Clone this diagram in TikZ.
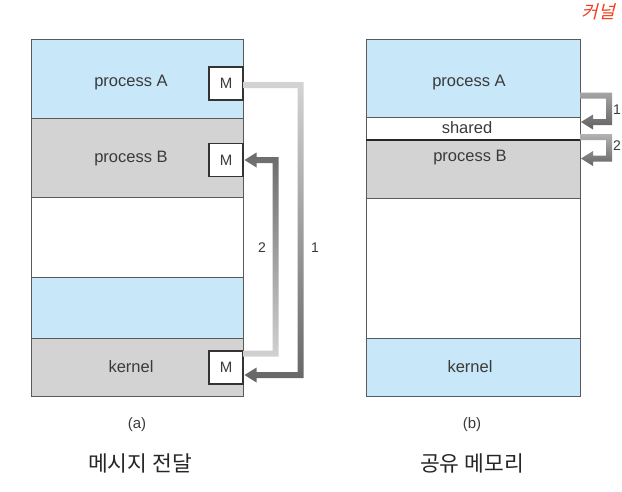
\documentclass[tikz,border=0pt]{standalone}
\usepackage{fontspec}
\setmainfont{Liberation Sans}
\newfontfamily\krfont{Noto Sans CJK KR}
\definecolor{memblue}{HTML}{C8E7F8}
\definecolor{memgray}{HTML}{D3D3D3}
\definecolor{edge}{HTML}{5A5A5A}
\definecolor{txt}{HTML}{3A3A3A}
\definecolor{redpen}{HTML}{F2401E}
\newcommand\elbowarrow[8]{%
  \shade[top color=#7,bottom color=#8]
    (#1,{#2-(#6)*3}) -- ({#3+3},{#2-(#6)*3}) -- ({#3+3},{#4+(#6)*3})
    -- ({#5+12},{#4+(#6)*3}) -- ({#5+12},{#4+(#6)*7.5}) -- (#5,#4)
    -- ({#5+12},{#4-(#6)*7.5}) -- ({#5+12},{#4-(#6)*3})
    -- ({#3-3},{#4-(#6)*3}) -- ({#3-3},{#2+(#6)*3}) -- (#1,{#2+(#6)*3}) -- cycle;}
\tikzset{
  sec/.style={draw=edge, line width=0.9pt, inner sep=0pt, outer sep=0pt},
  lbl/.style={text=txt, font=\fontsize{16.5}{19}\selectfont, inner sep=0pt},
  mbox/.style={draw=black!80, line width=1.2pt, fill=white, minimum width=34pt, minimum height=33pt, inner sep=0pt, text=txt, font=\fontsize{15}{18}\selectfont},
  num/.style={text=txt, font=\fontsize{14}{16}\selectfont, inner sep=0pt},
  captext/.style={text=txt, font=\fontsize{15}{18}\selectfont, inner sep=0pt},
  kr/.style={text=black!85, font=\krfont\fontsize{21.5}{24}\selectfont, inner sep=0pt}
}
\begin{document}
\begin{tikzpicture}[x=1pt,y=-1pt]
\useasboundingbox[fill=white] (0,0) rectangle (622,491);
% left column (a)
\node[sec, fill=memblue, minimum width=212pt, minimum height=79pt] (a1) at (137,78.5) {};
\node[sec, fill=memgray, minimum width=212pt, minimum height=79pt] (a2) at (137,157.5) {};
\node[sec, fill=white, minimum width=212pt, minimum height=80pt] (a3) at (137,237) {};
\node[sec, fill=memblue, minimum width=212pt, minimum height=61pt] (a4) at (137,307.5) {};
\node[sec, fill=memgray, minimum width=212pt, minimum height=58pt] (a5) at (137,367) {};
\node[lbl] (ta1) at (131,83) {process A};
\node[lbl] (ta2) at (131,159) {process B};
\node[lbl] (ta5) at (131,367) {kernel};
\node[mbox] (mA) at (226,83.5) {M};
\node[mbox] (mB) at (226,160) {M};
\node[mbox] (mK) at (226,367.5) {M};
% arrows (a)
\elbowarrow{243}{85}{300.5}{375}{244.5}{1}{black!17}{black!60}
\elbowarrow{243}{353.5}{275.5}{160}{244.5}{-1}{black!58}{black!18}
\node[num] (n2) at (262,248) {2};
\node[num] (n1) at (315,248) {1};
% right column (b)
\node[sec, fill=memblue, minimum width=214pt, minimum height=78pt] (b1) at (473,78) {};
\node[sec, fill=white, minimum width=214pt, minimum height=23pt] (b2) at (473,128.5) {};
\node[sec, fill=memgray, minimum width=214pt, minimum height=58pt] (b3) at (473,169) {};
\node[sec, fill=white, minimum width=214pt, minimum height=140pt] (b4) at (473,268) {};
\node[sec, fill=memblue, minimum width=214pt, minimum height=58pt] (b5) at (473,367) {};
\draw[black!85, line width=1.6pt] (b2.south west) -- (b2.south east);
\node[lbl] (tb1) at (469,83) {process A};
\node[lbl] (tb2) at (467,128) {shared};
\node[lbl] (tb3) at (470,158) {process B};
\node[lbl] (tb5) at (470,367) {kernel};
% arrows (b)
\elbowarrow{580}{95.5}{609}{122}{581}{1}{black!35}{black!62}
\elbowarrow{580}{137}{609}{158.5}{581}{1}{black!30}{black!60}
\node[num] (r1) at (617,110) {1};
\node[num] (r2) at (617,146) {2};
% captions
\node[captext] (ca) at (137,425) {(a)};
\node[captext] (cb) at (472,425) {(b)};
\node[kr] (ka) at (140,463) {메시지 전달};
\node[kr] (kb) at (472,463) {공유 메모리};
% handwritten note
\node[text=redpen, font=\krfont\fontsize{18}{20}\selectfont, inner sep=0pt, xslant=0.25] (note) at (600,12) {커널};
\end{tikzpicture}
\end{document}
